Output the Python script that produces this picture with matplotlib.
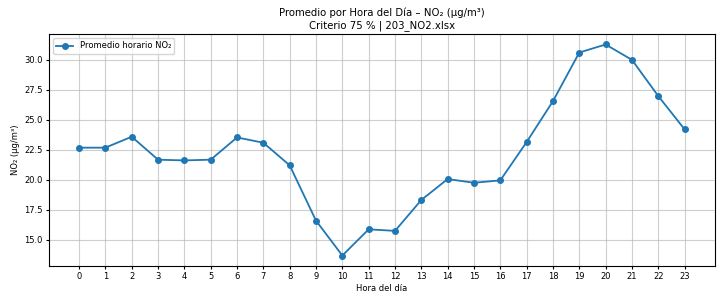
import matplotlib.pyplot as plt

# Promedio horario de NO2 por hora del día
horas = list(range(24))
no2 = [22.67, 22.67, 23.58, 21.67, 21.61, 21.67, 23.52, 23.08, 21.2, 16.6,
       13.7, 15.88, 15.75, 18.32, 20.06, 19.75, 19.95, 23.14, 26.54, 30.58,
       31.25, 29.97, 26.96, 24.19]

fig, ax = plt.subplots(figsize=(7.28, 2.95), dpi=100)
fig.subplots_adjust(left=0.067, right=0.982, top=0.885, bottom=0.098)

ax.plot(horas, no2, marker='o', markersize=4, linewidth=1.3, label='Promedio horario NO₂')

ax.set_title('Promedio por Hora del Día – NO₂ (µg/m³)\nCriterio 75 % | 203_NO2.xlsx',
             fontsize=7.3, linespacing=1.3, pad=4)
ax.set_xlabel('Hora del día', fontsize=6, labelpad=2)
ax.set_ylabel('NO₂ (µg/m³)', fontsize=6, labelpad=3)
ax.set_xticks(horas)
ax.tick_params(labelsize=6, length=2.5, pad=2)
ax.grid(True, alpha=0.6, linewidth=0.8)
ax.legend(loc='upper left', fontsize=6)

plt.savefig('out.png')
